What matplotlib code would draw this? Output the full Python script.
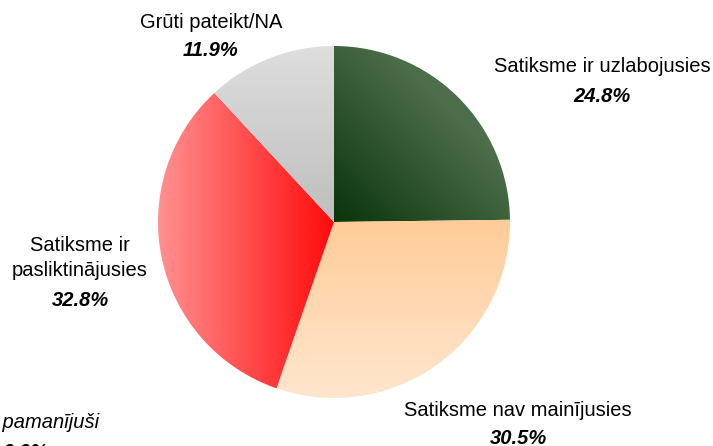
import numpy as np
import matplotlib.pyplot as plt

plt.rcParams['font.family'] = ['Liberation Sans', 'DejaVu Sans']

labels = ['Satiksme ir uzlabojusies', 'Satiksme nav mainījusies',
          'Satiksme ir\npasliktinājusies', 'Grūti pateikt/NA', 'Nav pamanījuši']
values = [24.8, 30.5, 32.8, 11.9, 0.0]
pct_text = ['24.8%', '30.5%', '32.8%', '11.9%', '0.0%']

W, H = 713, 446
fig = plt.figure(figsize=(W / 100, H / 100), dpi=100)

# pie centre and radius in pixels
cx, cy, r = 334, 222, 176
ax = fig.add_axes([(cx - r) / W, 1 - (cy + r) / H, 2 * r / W, 2 * r / H])

wedges, _ = ax.pie(values, startangle=90, counterclock=False, radius=1)
ax.set_xlim(-1, 1)
ax.set_ylim(-1, 1)
ax.set_aspect('equal')
ax.axis('off')

n = 300
xx, yy = np.meshgrid(np.linspace(-1, 1, n), np.linspace(1, -1, n))


def blend(c0, c1, t):
    c0 = np.array(c0) / 255.0
    c1 = np.array(c1) / 255.0
    t = np.clip(t, 0, 1)[..., None]
    return c0 * (1 - t) + c1 * t


grads = [
    blend((10, 52, 10), (76, 110, 74), (xx + yy) / 1.3),   # green, dark at centre
    blend((255, 204, 153), (255, 230, 206), -yy),          # peach, vertical
    blend((255, 145, 145), (255, 10, 10), xx + 1),         # red, horizontal
    blend((222, 222, 222), (190, 190, 190), 1 - yy),       # grey, vertical
    blend((200, 200, 200), (200, 200, 200), yy),
]

for w, g in zip(wedges, grads):
    w.set_facecolor('none')
    w.set_edgecolor('none')
    im = ax.imshow(g, extent=(-1, 1, -1, 1), zorder=1, interpolation='bilinear')
    im.set_clip_path(w)
ax.set_xlim(-1, 1)
ax.set_ylim(-1, 1)

# label positions in pixels (name centre, pct centre)
name_pos = [(602, 66), (518, 410), (80, 258), (211, 22), (30, 423)]
pct_pos = [(602, 97), (518, 438), (80, 300), (211, 50), (25, 452)]

for i in range(len(labels)):
    style = 'italic' if i == 4 else 'normal'
    fig.text(name_pos[i][0] / W, 1 - name_pos[i][1] / H, labels[i],
             ha='center', va='center', fontsize=14.5, style=style,
             linespacing=1.4)
    fig.text(pct_pos[i][0] / W, 1 - pct_pos[i][1] / H, pct_text[i],
             ha='center', va='center', fontsize=14.5, style='italic',
             weight='bold')

fig.savefig('out.png', dpi=100)
